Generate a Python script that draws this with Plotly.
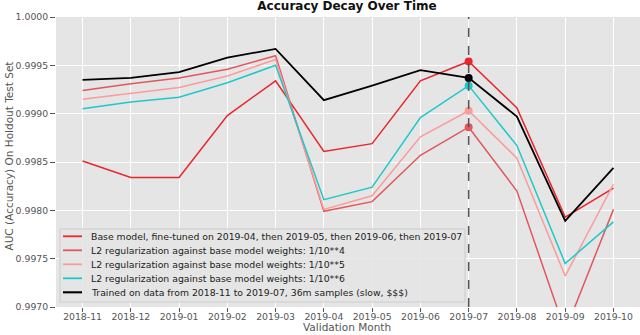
import plotly.graph_objects as go

months = ["2018-11", "2018-12", "2019-01", "2019-02", "2019-03", "2019-04",
          "2019-05", "2019-06", "2019-07", "2019-08", "2019-09", "2019-10"]

base_model = [0.99851, 0.99834, 0.99834, 0.99898, 0.99934, 0.99861,
              0.99869, 0.99934, 0.99954, 0.99906, 0.99793, 0.99823]
l2_1e4 = [0.99924, 0.99931, 0.99937, 0.99946, 0.99960, 0.99799,
          0.99809, 0.99857, 0.99886, 0.99820, 0.99675, 0.99801]
l2_1e5 = [0.99915, 0.99921, 0.99927, 0.99939, 0.99956, 0.99801,
          0.99815, 0.99876, 0.99903, 0.99854, 0.99732, 0.99827]
l2_1e6 = [0.99905, 0.99912, 0.99917, 0.99932, 0.99950, 0.99811,
          0.99824, 0.99896, 0.99929, 0.99867, 0.99745, 0.99788]
full_retrain = [0.99935, 0.99937, 0.99943, 0.99958, 0.99967, 0.99914,
                0.99929, 0.99945, 0.99937, 0.99897, 0.99789, 0.99844]

series_names = [
    "Base model, fine-tuned on 2019-04, then 2019-05, then 2019-06, then 2019-07",
    "L2 regularization against base model weights: 1/10**4",
    "L2 regularization against base model weights: 1/10**5",
    "L2 regularization against base model weights: 1/10**6",
    "Trained on data from 2018-11 to 2019-07, 36m samples (slow, $$$)",
]
series_values = [base_model, l2_1e4, l2_1e5, l2_1e6, full_retrain]
series_colors = ["#e8262b", "#e2575c", "#fb9b9b", "#1fc8c8", "#000000"]
series_widths = [1.5, 1.5, 1.5, 1.5, 1.8]

cutoff_month = "2019-07"
y_ticks = [0.9970, 0.9975, 0.9980, 0.9985, 0.9990, 0.9995, 1.0000]

chart_title = "Accuracy Decay Over Time"
x_title = "Validation Month"
y_title = "AUC (Accuracy) On Holdout Test Set"

FONT = "DejaVu Sans"
W, H = 640, 335
ML, MR, MT, MB = 56, 0, 17, 28
PW, PH = W - ML - MR, H - MT - MB


def px_x(px):
    return (px - ML) / PW


def px_y(py):
    return (H - MB - py) / PH


fig = go.Figure()

for name, vals, col, w in zip(series_names, series_values, series_colors, series_widths):
    fig.add_trace(go.Scatter(x=months, y=vals, mode="lines", name=name,
                             showlegend=False,
                             line=dict(color=col, width=w)))

ci = months.index(cutoff_month)
for vals, col in zip(series_values, series_colors):
    fig.add_trace(go.Scatter(x=[cutoff_month], y=[vals[ci]], mode="markers",
                             showlegend=False, hoverinfo="skip",
                             marker=dict(color=col, size=8)))

fig.add_shape(type="line", xref="x", yref="paper", x0=ci, x1=ci, y0=0, y1=1,
              line=dict(color="#555555", width=1.5, dash="dash"), layer="above")

# legend box (drawn to match the compact matplotlib legend)
LEG_L, LEG_R, LEG_T, LEG_B = 60, 465, 229, 302
fig.add_shape(type="rect", xref="paper", yref="paper",
              x0=px_x(LEG_L), x1=px_x(LEG_R), y0=px_y(LEG_B), y1=px_y(LEG_T),
              fillcolor="rgba(229,229,229,0.88)", line=dict(color="#cccccc", width=1),
              layer="above")
for i, (name, col, w) in enumerate(zip(series_names, series_colors, series_widths)):
    ry = 236.3 + i * 14.0
    fig.add_shape(type="line", xref="paper", yref="paper",
                  x0=px_x(63), x1=px_x(82), y0=px_y(ry), y1=px_y(ry),
                  line=dict(color=col, width=w + 0.3), layer="above")
    fig.add_annotation(xref="paper", yref="paper", x=px_x(89), y=px_y(ry),
                       xanchor="left", yanchor="middle", text=name, showarrow=False,
                       font=dict(size=9.3, color="#222222", family=FONT))

# axis titles
fig.add_annotation(xref="paper", yref="paper", x=px_x(347), y=px_y(326.5),
                   xanchor="center", yanchor="middle", text=x_title, showarrow=False,
                   font=dict(size=10.5, color="#555555", family=FONT))
fig.add_annotation(xref="paper", yref="paper", x=px_x(8.5), y=px_y(156),
                   xanchor="center", yanchor="middle", text=y_title, showarrow=False,
                   textangle=-90,
                   font=dict(size=10.5, color="#555555", family=FONT))

fig.update_layout(
    width=W, height=H,
    margin=dict(l=ML, r=MR, t=MT, b=MB),
    paper_bgcolor="white", plot_bgcolor="#e5e5e5",
    font=dict(family=FONT, size=9.3, color="#555555"),
    title=dict(text="<b>" + chart_title + "</b>", x=347 / W,
               xanchor="center", y=1 - 1.5 / H, yanchor="top",
               font=dict(size=12, color="#111111", family=FONT)),
    showlegend=False,
    xaxis=dict(type="category", categoryorder="array", categoryarray=months,
               range=[-0.55, 11.55], showgrid=True, gridcolor="white", gridwidth=1,
               ticks="outside", ticklen=4, tickcolor="#555555", zeroline=False,
               automargin=False, ticklabelstandoff=-3,
               tickfont=dict(size=9.3, color="#555555")),
    yaxis=dict(range=[0.9970, 1.0000], tickvals=y_ticks, tickformat=".4f",
               showgrid=True, gridcolor="white", gridwidth=1, zeroline=False,
               automargin=False,
               ticks="outside", ticklen=5, tickcolor="#555555",
               tickfont=dict(size=9.3, color="#555555")),
)

fig.write_html("out.html", config={"displayModeBar": False},
               post_script="document.body.style.margin='0px';document.body.style.overflow='hidden';")
